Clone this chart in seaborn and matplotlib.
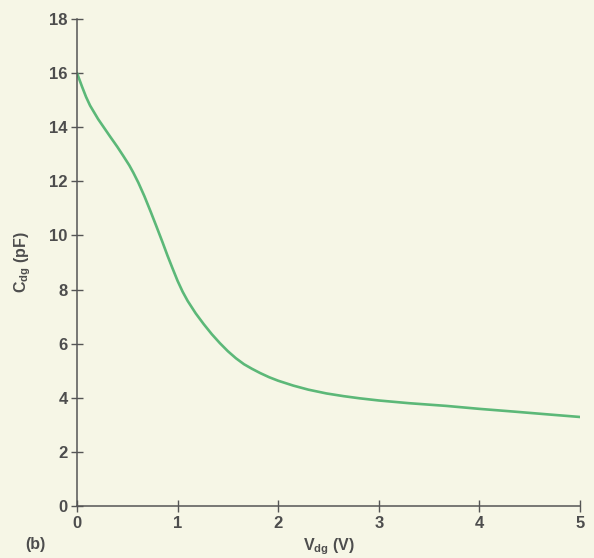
import matplotlib
matplotlib.use("Agg")
import matplotlib.pyplot as plt
import seaborn as sns
import pandas as pd

# Data
v_dg = [0.00, 0.02, 0.05, 0.09, 0.13, 0.21, 0.33, 0.40, 0.46, 0.52, 0.56,
        0.61, 0.67, 0.73, 0.79, 0.85, 0.90, 0.95, 1.00, 1.05, 1.10, 1.18,
        1.26, 1.34, 1.42, 1.50, 1.58, 1.66, 1.74, 1.82, 1.91, 2.00, 2.15,
        2.30, 2.48, 2.65, 2.81, 3.00, 3.30, 3.67, 4.00, 4.34, 4.70, 5.00]
c_dg = [16.0, 15.8, 15.5, 15.12, 14.8, 14.3, 13.65, 13.28, 12.94, 12.59, 12.32,
        11.95, 11.45, 10.9, 10.33, 9.75, 9.25, 8.78, 8.32, 7.92, 7.58, 7.12,
        6.72, 6.35, 6.02, 5.72, 5.46, 5.24, 5.07, 4.915, 4.76, 4.63, 4.45,
        4.30, 4.16, 4.06, 3.98, 3.90, 3.80, 3.70, 3.59, 3.49, 3.38, 3.29]
x_ticks = [0, 1, 2, 3, 4, 5]
y_ticks = [0, 2, 4, 6, 8, 10, 12, 14, 16, 18]

df = pd.DataFrame({"V": v_dg, "C": c_dg})

sns.set_theme(style="ticks")
plt.rcParams["font.family"] = ["Liberation Sans", "DejaVu Sans"]
plt.rcParams["mathtext.fontset"] = "custom"
plt.rcParams["mathtext.rm"] = "Liberation Sans:bold"
plt.rcParams["mathtext.default"] = "rm"

bg = "#f6f6e6"
axis_col = "#555555"
text_col = "#4d4d4d"

fig = plt.figure(figsize=(5.94, 5.58), dpi=100, facecolor=bg)
ax = fig.add_axes([77 / 594, 52 / 558, (580 - 77) / 594, (506 - 19) / 558])
ax.set_facecolor(bg)

sns.lineplot(data=df, x="V", y="C", ax=ax, color="#5cb878", linewidth=1.9,
             sort=False)

ax.set_xlim(0, 5)
ax.set_ylim(0, 18)
ax.set_xticks(x_ticks)
ax.set_yticks(y_ticks)
ax.set_xticklabels([str(t) for t in x_ticks])
ax.set_yticklabels([str(t) for t in y_ticks])

for s in ["top", "right"]:
    ax.spines[s].set_visible(False)
for s in ["left", "bottom"]:
    ax.spines[s].set_color(axis_col)
    ax.spines[s].set_linewidth(1.1)

ax.tick_params(axis="both", direction="inout", length=8.5, width=1.0,
               color=axis_col, labelcolor=text_col, labelsize=12)
ax.tick_params(axis="y", pad=2.5)
ax.tick_params(axis="x", pad=3.0)
for lab in ax.get_xticklabels() + ax.get_yticklabels():
    lab.set_fontweight("bold")

ax.set_xlabel(r"V$_{\rm dg}$ (V)", fontsize=11.5, fontweight="bold",
              color=text_col)
ax.set_ylabel(r"C$_{\rm dg}$ (pF)", fontsize=11.5, fontweight="bold",
              color=text_col)
ax.xaxis.set_label_coords(0.5, -0.062)
ax.yaxis.set_label_coords(-0.088, 0.5)

fig.text(25 / 594, 1 - 545 / 558, "(b)", fontsize=11.5, fontweight="bold",
         color=text_col, va="center", ha="left")

fig.savefig("out.png", dpi=100, facecolor=bg)
